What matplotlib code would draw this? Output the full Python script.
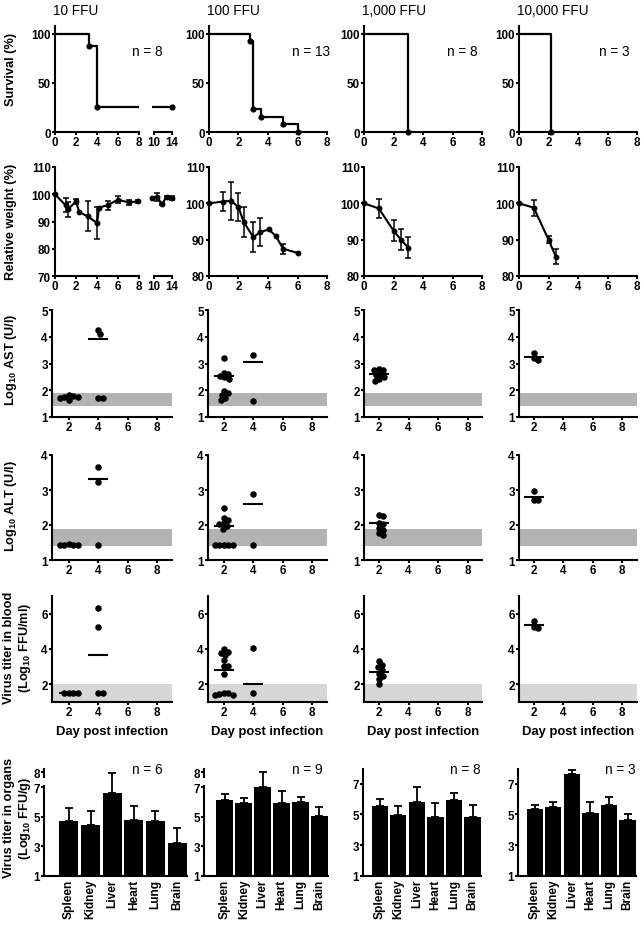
import numpy as np
import matplotlib
matplotlib.use('Agg')
import matplotlib.pyplot as plt
import matplotlib.transforms as mtransforms

plt.rcParams['font.family'] = ['Liberation Sans', 'DejaVu Sans']
plt.rcParams['font.weight'] = 'bold'
plt.rcParams['axes.labelweight'] = 'bold'
plt.rcParams['mathtext.fontset'] = 'custom'
plt.rcParams['mathtext.rm'] = 'Liberation Sans:bold'
plt.rcParams['mathtext.bf'] = 'Liberation Sans:bold'
plt.rcParams['mathtext.default'] = 'bf'

# ---------------- data ----------------
doses = ['10 FFU', '100 FFU', '1,000 FFU', '10,000 FFU']
n_survival = [8, 13, 8, 3]
n_organs = [6, 9, 8, 3]

# Kaplan-Meier steps (day, % alive)
surv_days = [[0, 3.2, 4.0, 14], [0, 2.8, 3.0, 3.5, 5.0, 6.0], [0, 3.0], [0, 2.2]]
surv_pct = [[100, 87.5, 25, 25], [100, 92.3, 23.1, 15.4, 7.7, 0], [100, 0], [100, 0]]

# relative body weight (mean +/- error)
wt_days = [
    [0, 1.0, 1.25, 2.0, 2.3, 3.1, 4.0, 4.2, 5.0, 6.0, 7.0, 7.9, 9.6, 10.6, 11.8, 12.8, 14.0],
    [0, 0.98, 1.48, 1.99, 2.35, 3.0, 3.49, 4.04, 4.52, 5.02, 6.05],
    [0, 1.0, 2.0, 2.5, 3.0],
    [0, 1.0, 2.0, 2.5],
]
wt_mean = [
    [100, 96.0, 94.5, 97.4, 93.5, 91.9, 89.5, 95.1, 96.0, 98.0, 97.0, 97.4, 98.6, 99.0, 96.5, 99.0, 98.6],
    [100, 100.5, 100.7, 99.0, 94.9, 90.7, 92.1, 92.8, 91.1, 87.5, 86.3],
    [100, 98.6, 92.5, 90.0, 87.8],
    [100, 98.8, 90.0, 85.3],
]
wt_err = [
    [0, 2.5, 2.8, 1.0, 0, 5.5, 5.8, 0, 1.7, 1.2, 0.9, 0.6, 0.4, 1.5, 0.3, 0.5, 0.8],
    [0, 2.5, 5.3, 3.9, 4.2, 4.1, 3.8, 0, 0, 1.4, 0],
    [0, 2.6, 2.8, 2.9, 2.8],
    [0, 2.2, 1.0, 2.1],
]

# day of sampling for scatter rows
scat_days = [[2, 4], [2, 4], [2], [2]]

ast_vals = [
    [[1.82, 1.80, 1.76, 1.74, 1.70, 1.64], [4.27, 4.12, 1.72, 1.70]],
    [[3.20, 2.65, 2.60, 2.55, 2.48, 2.42, 1.97, 1.88, 1.82, 1.70, 1.62], [3.33, 1.58]],
    [[2.78, 2.76, 2.74, 2.62, 2.58, 2.50, 2.42, 2.35]],
    [[3.38, 3.20, 3.13]],
]
ast_line = [[1.74, 3.90], [2.52, 3.05], [2.60], [3.26]]

alt_vals = [
    [[1.46, 1.43, 1.43, 1.43, 1.43], [3.65, 3.22, 1.43]],
    [[2.48, 2.20, 2.14, 2.05, 2.02, 1.97, 1.90, 1.43, 1.43, 1.43, 1.43, 1.43], [2.88, 1.43]],
    [[2.30, 2.27, 2.05, 2.03, 1.92, 1.85, 1.78, 1.72]],
    [[2.98, 2.72, 2.71]],
]
alt_line = [[1.43, 3.32], [1.98, 2.60], [2.05], [2.81]]

blood_vals = [
    [[1.50, 1.50, 1.50, 1.50], [6.32, 5.24, 1.50, 1.50]],
    [[4.00, 3.85, 3.80, 3.66, 3.40, 3.05, 3.03, 2.60, 1.50, 1.50, 1.45, 1.40, 1.40], [4.05, 1.50]],
    [[3.30, 3.12, 2.97, 2.80, 2.60, 2.50, 2.32, 2.00]],
    [[5.60, 5.24, 5.20]],
]
blood_line = [[1.50, 3.65], [2.80, 2.02], [2.70], [5.35]]

organs = ['Spleen', 'Kidney', 'Liver', 'Heart', 'Lung', 'Brain']
organ_mean = [
    [4.73, 4.46, 6.63, 4.80, 4.73, 3.24],
    [6.13, 5.90, 7.00, 5.90, 5.97, 5.03],
    [5.55, 4.94, 5.80, 4.86, 5.92, 4.83],
    [5.35, 5.47, 7.60, 5.10, 5.58, 4.63],
]
organ_err = [
    [0.87, 0.94, 1.32, 0.95, 0.67, 1.00],
    [0.42, 0.37, 1.05, 0.86, 0.39, 0.61],
    [0.48, 0.61, 1.00, 0.86, 0.50, 0.81],
    [0.25, 0.33, 0.30, 0.73, 0.55, 0.37],
]

# ---------------- layout (pixels) ----------------
W, H = 644, 929
fig = plt.figure(figsize=(W / 100, H / 100), dpi=100)

col_main = [(55, 139), (209, 327), (364, 482), (519, 637)]
col_scat = [(52, 172), (208, 327), (364, 482), (519, 637)]
scat_xlim = [(0.85, 9.0), (0.91, 9.02), (0.99, 8.96), (0.98, 9.02)]
col_org = [(44, 187), (204, 328), (363, 481), (518, 636)]
org_xlim = [(-1.15, 5.46), (-1.1, 5.45), (-0.9, 5.45), (-0.9, 5.45)]
LW = 1.5
TICK_FS = 8.4


def px_axes(left, top, right, bottom):
    return fig.add_axes([left / W, 1 - bottom / H, (right - left) / W, (bottom - top) / H])


def style(ax):
    ax.spines['top'].set_visible(False)
    ax.spines['right'].set_visible(False)
    for s in ('left', 'bottom'):
        ax.spines[s].set_linewidth(LW)
    ax.tick_params(width=LW, length=2.5, pad=0.6, labelsize=TICK_FS)
    ax.patch.set_alpha(0)


def swarm_x(ax, day, vals, diam=4.4):
    vals = np.asarray(vals, float)
    xy = ax.transData.transform(np.column_stack([np.full(vals.size, day), vals]))
    x0 = xy[0, 0]
    placed = []
    xs = np.empty(vals.size)
    for i in np.argsort(-vals, kind='stable'):
        y = xy[i, 1]
        found = None
        for m in np.arange(0, 60, 0.5):
            for cand in ((x0,) if m == 0 else (x0 + m, x0 - m)):
                if all((cand - px) ** 2 + (y - py) ** 2 >= diam ** 2 for px, py in placed):
                    found = cand
                    break
            if found is not None:
                break
        placed.append((found, y))
        xs[i] = found
    return ax.transData.inverted().transform(np.column_stack([xs, xy[:, 1]]))[:, 0]


def fig_text(x, y, s, **kw):
    fig.text(x / W, 1 - y / H, s, **kw)


for i in range(4):
    fig_text(col_main[i][0] - 2, 11, doses[i], fontsize=9.8, fontweight='normal',
             ha='left', va='center')

# ---------------- survival ----------------
for i in range(4):
    l, r = col_main[i]
    ax = px_axes(l, 27, r, 133)
    style(ax)
    ax.step(surv_days[i], surv_pct[i], where='post', color='k', lw=1.6)
    dd = np.array(surv_days[i][1:])
    pp = np.array(surv_pct[i][1:])
    ax.plot(dd[dd <= 8], pp[dd <= 8], 'o', color='k', ms=3.4, clip_on=False)
    ax.set_xlim(0, 8)
    ax.set_ylim(0, 108)
    ax.set_xticks([0, 2, 4, 6, 8])
    ax.set_yticks([0, 50, 100])
    fig_text([132, 292, 447, 599][i], 52, 'n = %d' % n_survival[i], fontsize=9.8,
             fontweight='normal', ha='left', va='center')
    if i == 0:
        ax2 = px_axes(152, 27, 174, 133)
        style(ax2)
        ax2.spines['left'].set_visible(False)
        ax2.step(surv_days[i], surv_pct[i], where='post', color='k', lw=1.6)
        ax2.plot(dd[dd > 8], pp[dd > 8], 'o', color='k', ms=3.4, clip_on=False)
        ax2.set_xlim(9.56, 14.44)
        ax2.set_ylim(0, 108)
        ax2.spines['bottom'].set_bounds(10, 14)
        ax2.set_xticks([10, 14])
        ax2.set_yticks([])

fig_text(11, 69, 'Survival (%)', rotation=90, fontsize=9.2, ha='center', va='center')

# ---------------- weight ----------------
for i in range(4):
    l, r = col_main[i]
    d = np.array(wt_days[i])
    m = np.array(wt_mean[i])
    e = np.array(wt_err[i])
    parts = [(px_axes(l, 168, r, 277), d <= 8)]
    if i == 0:
        parts.append((px_axes(152, 168, 174, 277), d > 8))
    for k, (ax, sel) in enumerate(parts):
        style(ax)
        ax.plot(d[sel], m[sel], '-o', color='k', lw=1.5, ms=3.2, clip_on=False)
        eb = sel & (e > 0)
        ax.errorbar(d[eb], m[eb], yerr=e[eb], fmt='none', ecolor='k', elinewidth=1.1,
                    capsize=2.4, capthick=1.1)
        ax.set_ylim((70, 110) if i == 0 else (80, 110))
        if k == 0:
            ax.set_xlim(0, 8)
            ax.set_xticks([0, 2, 4, 6, 8])
            ax.set_yticks(np.arange(70 if i == 0 else 80, 111, 10))
        else:
            ax.spines['left'].set_visible(False)
            ax.set_xlim(9.56, 14.44)
            ax.spines['bottom'].set_bounds(10, 14)
            ax.set_xticks([10, 14])
            ax.set_yticks([])

fig_text(11, 222, 'Relative weight (%)', rotation=90, fontsize=9.2, ha='center', va='center')


# ---------------- scatter rows ----------------
def scatter_row(top, bottom, vals, lines, ylim, yticks, band, band_color, xlabel=False):
    for i in range(4):
        l, r = col_scat[i]
        ax = px_axes(l, top, r, bottom)
        style(ax)
        ax.set_xlim(*scat_xlim[i])
        ax.set_ylim(*ylim)
        ax.set_xticks([2, 4, 6, 8])
        ax.set_yticks(yticks)
        ax.axhspan(band[0], band[1], color=band_color, lw=0, zorder=0)
        for day, v, mline in zip(scat_days[i], vals[i], lines[i]):
            xs = swarm_x(ax, day, v)
            ax.scatter(xs, v, s=22, color='k', lw=0, zorder=3, clip_on=False)
            ax.hlines(mline, day - 0.68, day + 0.68, color='k', lw=1.5, zorder=4)
        if xlabel:
            ax.set_xlabel('Day post infection', fontsize=9.4, labelpad=5.0)


scatter_row(311, 418, ast_vals, ast_line, (1, 5), [1, 2, 3, 4, 5], (1.4, 1.9), '#b3b3b3')
fig_text(11, 360, 'Log$_{10}$ AST (U/l)', rotation=90, fontsize=9.2, ha='center', va='center')

scatter_row(456, 561, alt_vals, alt_line, (1, 4), [1, 2, 3, 4], (1.4, 1.9), '#b3b3b3')
fig_text(11, 506, 'Log$_{10}$ ALT (U/l)', rotation=90, fontsize=9.2, ha='center', va='center')

scatter_row(597, 703, blood_vals, blood_line, (1, 7), [2, 4, 6], (1, 2), '#d6d6d6', xlabel=True)
fig_text(18, 648, 'Virus titer in blood\n(Log$_{10}$ FFU/ml)', rotation=90, fontsize=9.2,
         ha='center', va='center', multialignment='center', linespacing=1.25)

# ---------------- organ titers ----------------
x = np.arange(len(organs))
for i in range(4):
    l, r = col_org[i]
    ax = px_axes(l, 770, r, 877)
    style(ax)
    ax.bar(x, organ_mean[i], width=0.88, color='k', zorder=2)
    ax.errorbar(x, organ_mean[i], yerr=[np.zeros(len(organs)), organ_err[i]], fmt='none',
                ecolor='k', elinewidth=1.3, capsize=3.0, capthick=1.3, zorder=1)
    ax.set_xlim(*org_xlim[i])
    ax.set_xticks(x)
    ax.set_xticklabels(organs, rotation=90, fontsize=8.6)
    ax.tick_params(axis='x', length=0, pad=2)
    if i < 2:
        ax.set_ylim(1, 8.22)
        ax.set_yticks([1, 3, 5, 7, 8])
        ax.spines['left'].set_bounds(1, 7.05)
        trans = mtransforms.blended_transform_factory(ax.transAxes, ax.transData)
        ax.plot([0, 0], [7.7, 8.22], transform=trans, color='k', lw=LW, clip_on=False)
    else:
        ax.set_ylim(1, 7.95)
        ax.set_yticks([1, 3, 5, 7])
    fig_text([132, 292, 450, 605][i], 770, 'n = %d' % n_organs[i], fontsize=9.8,
             fontweight='normal', ha='left', va='center')

fig_text(18, 818, 'Virus titer in organs\n(Log$_{10}$ FFU/g)', rotation=90, fontsize=9.2,
         ha='center', va='center', multialignment='center', linespacing=1.25)

for a in fig.axes:
    for axis in (a.xaxis, a.yaxis):
        for tick in axis.get_major_ticks():
            tick.label1.set_fontweight('bold')

fig.savefig('out.png', dpi=100)
